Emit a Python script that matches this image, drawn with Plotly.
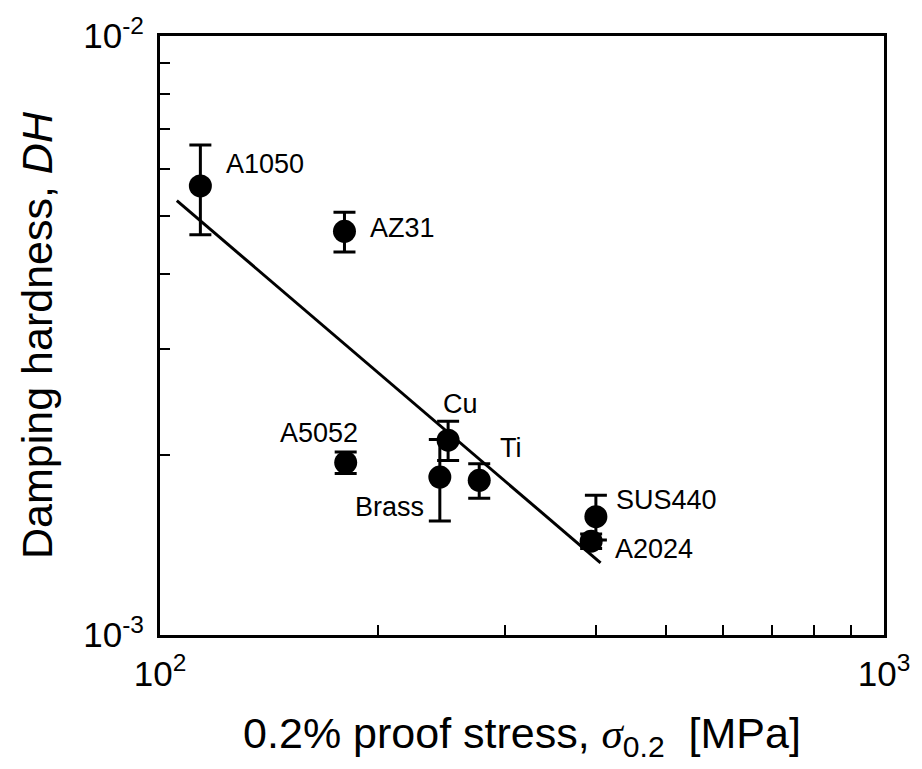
import plotly.graph_objects as go
import numpy as np

# Measured materials: 0.2% proof stress [MPa] vs damping hardness DH
materials = ["A1050", "AZ31", "A5052", "Brass", "Cu", "Ti", "SUS440", "A2024"]
proof_stress = [113.7, 179.8, 180.5, 243.5, 250.0, 276.0, 400.0, 394.0]
damping_hardness = [5.62e-3, 4.72e-3, 1.94e-3, 1.835e-3, 2.115e-3, 1.812e-3, 1.576e-3, 1.434e-3]
dh_error = [0.96e-3, 0.36e-3, 0.08e-3, 0.285e-3, 0.16e-3, 0.12e-3, 0.135e-3, 0.04e-3]

# Power-law fit line end points
fit_stress = [105.5, 406.0]
fit_dh = [5.31e-3, 1.32e-3]

# Axis ticks
x_tickvals = [100, 1000]
x_ticktext = ["10<sup>2</sup>", "10<sup>3</sup>"]
y_tickvals = [1e-3, 1e-2]
y_ticktext = ["10<sup>-3</sup>", "10<sup>-2</sup>"]
x_minor = [200, 300, 400, 500, 600, 700, 800, 900]
y_minor = [2e-3, 3e-3, 4e-3, 5e-3, 6e-3, 7e-3, 8e-3, 9e-3]

# Label placement (pixel offsets from each point)
label_dx = [24, 24, 14, -14, 12, 32, 18, 22]
label_dy = [22, 3, 30, -30, 36, 32, 17, -8]
label_anchor = ["left", "left", "right", "right", "center", "center", "left", "left"]

FONT = "Liberation Sans, Arial, sans-serif"

fig = go.Figure()

fig.add_trace(go.Scatter(
    x=fit_stress, y=fit_dh, mode="lines",
    line=dict(color="black", width=3), showlegend=False, hoverinfo="skip",
))

fig.add_trace(go.Scatter(
    x=proof_stress, y=damping_hardness, mode="markers",
    marker=dict(color="black", size=23, symbol="circle"),
    error_y=dict(type="data", array=dh_error, visible=True,
                 color="black", thickness=3, width=11),
    showlegend=False,
))

for name, x, y, dx, dy, anc in zip(materials, proof_stress, damping_hardness,
                                   label_dx, label_dy, label_anchor):
    fig.add_annotation(
        x=np.log10(x), y=np.log10(y), text=name, showarrow=False,
        xanchor=anc, yanchor="middle", xshift=dx, yshift=dy,
        font=dict(family=FONT, size=27, color="black"),
    )

axis_common = dict(
    showgrid=False, zeroline=False, showline=True, linecolor="black",
    linewidth=3, mirror=True, ticks="inside", ticklen=10, tickwidth=2,
    tickcolor="black", tickfont=dict(family=FONT, size=35, color="black"),
)

fig.update_xaxes(
    type="log", range=[2, 3], tickvals=x_tickvals, ticktext=x_ticktext,
    minor=dict(tickvals=x_minor, ticks="inside", ticklen=10, tickwidth=2,
               tickcolor="black", showgrid=False),
    title=dict(text="0.2% proof stress, <i><span style=\"font-family:Liberation Serif\">σ</span></i><sub>0.2</sub>  [MPa]",
               font=dict(family=FONT, size=43, color="black"), standoff=26),
    ticklabelstandoff=6,
    **axis_common,
)
fig.update_yaxes(
    type="log", range=[-3, -2], tickvals=y_tickvals, ticktext=y_ticktext,
    minor=dict(tickvals=y_minor, ticks="inside", ticklen=10, tickwidth=2,
               tickcolor="black", showgrid=False),
    title=dict(text="Damping hardness, <i>DH</i>",
               font=dict(family=FONT, size=43, color="black"), standoff=18),
    ticklabelstandoff=6,
    **axis_common,
)

fig.update_layout(
    width=922, height=769,
    margin=dict(l=160, r=32, t=27, b=134),
    plot_bgcolor="white", paper_bgcolor="white",
    font=dict(family=FONT, color="black"),
)

fig.write_html("out.html")
